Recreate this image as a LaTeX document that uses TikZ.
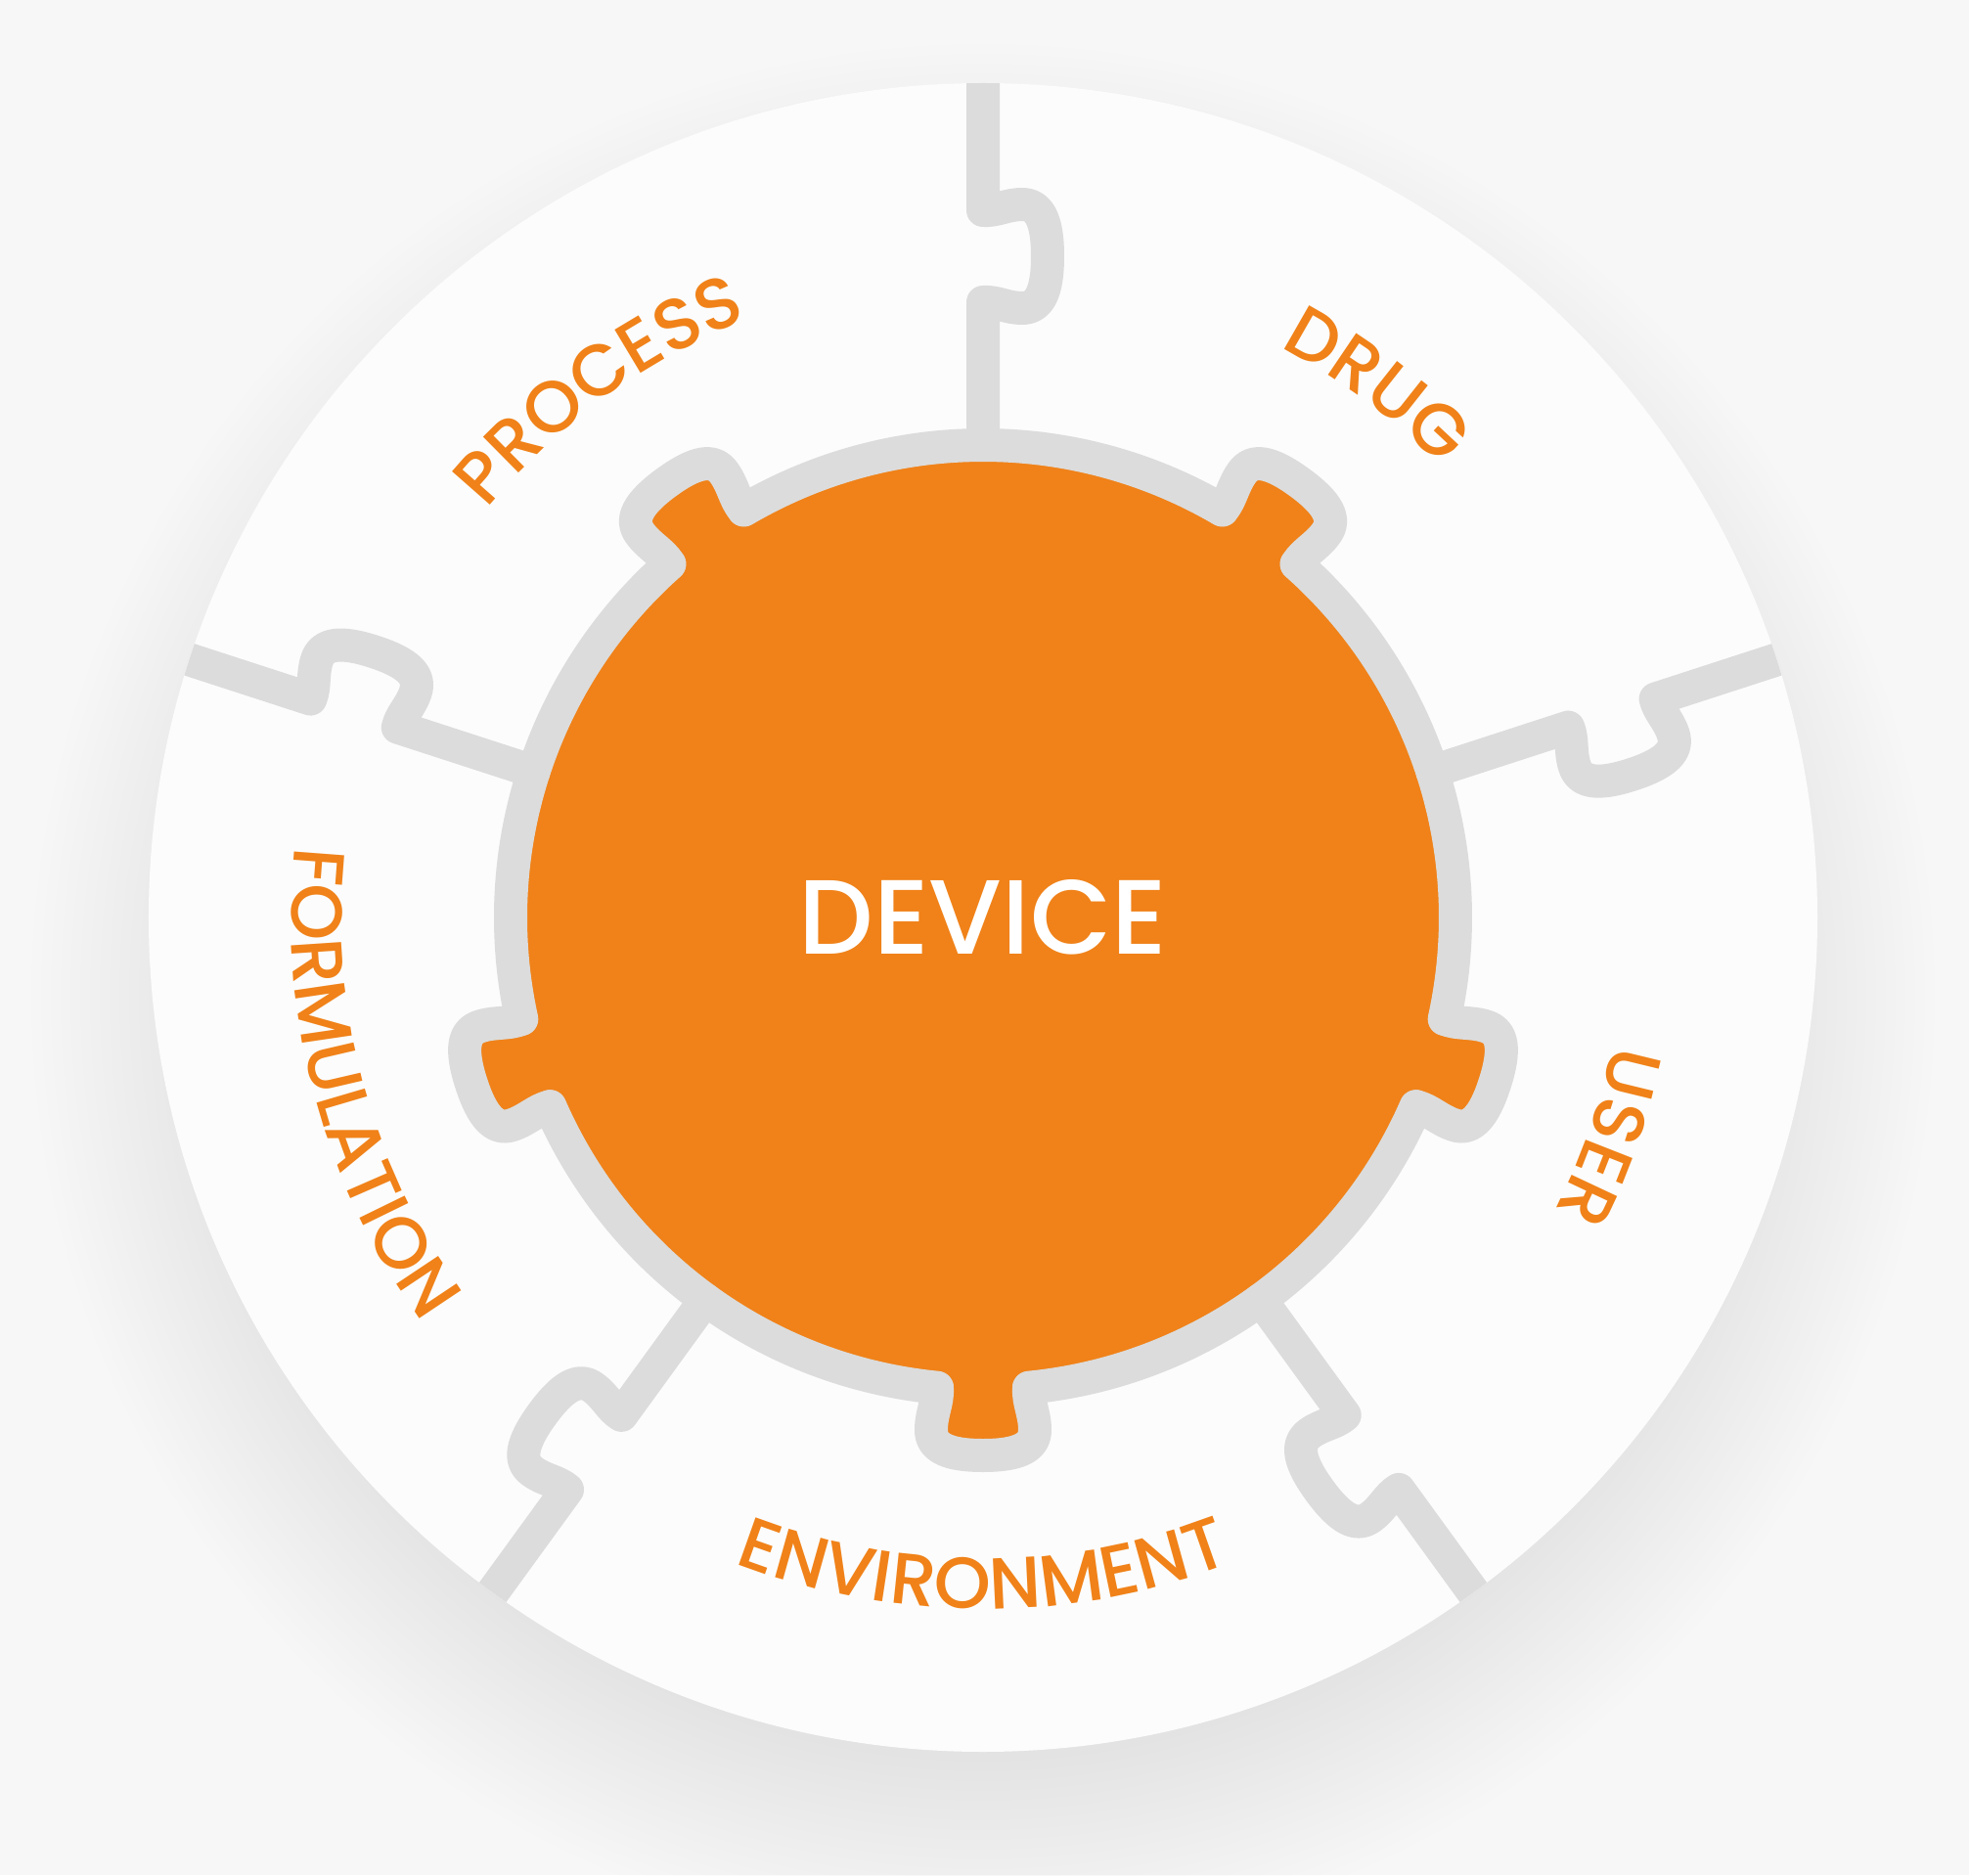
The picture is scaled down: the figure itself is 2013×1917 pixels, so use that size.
\documentclass[tikz,border=0pt]{standalone}
\usepackage{fontspec}
\usetikzlibrary{decorations.text}
\IfFontExistsTF{Poppins Medium}
  {\newfontfamily\labelfont{Poppins Medium}}
  {\newfontfamily\labelfont{Poppins}}

\definecolor{bggray}{HTML}{F7F7F7}
\definecolor{piecewhite}{HTML}{FCFCFC}
\definecolor{seamgray}{HTML}{DCDCDC}
\definecolor{deviceorange}{HTML}{F08219}

\tikzset{
% seams between the puzzle pieces
seam/.style={draw=seamgray,line width=17pt,line cap=round,line join=round},
% curved orange labels round the device
arc label/.style={decorate,decoration={text along path,text align=center,text color=deviceorange}}
}
\newcommand\labelsize{\fontsize{37}{40}\selectfont}

\begin{document}
\begin{tikzpicture}[x=0.5pt,y=0.5pt]
% background and soft drop shadow
\useasboundingbox (-1005,-979) rectangle (1008,938);
\fill[bggray] (-1005,-979) rectangle (1008,938);
\begin{scope}
\clip (-1005,-979) rectangle (1008,938);
\foreach \r in {753,763,...,973}
  \fill[black,opacity=0.0055] (0,-80) circle (\r);
\end{scope}
% the outer disc
\fill[piecewhite] (0,0) circle (853);
\begin{scope}
\clip (0,0) circle (853);
% device body with its five tabs
\fill[deviceorange] (0,0) circle (483);
\foreach \t in {54,126,198,270,342}{
  \fill[deviceorange,rotate=\t-90] (47,481) .. controls (46,496) and (53,507) .. (53,524)
    .. controls (53,542) and (36,550) .. (0,550) .. controls (-36,550) and (-53,542) .. (-53,524)
    .. controls (-53,507) and (-46,496) .. (-47,481) -- (-47,420) -- (47,420) -- cycle;
}
\foreach \t in {54,126,198,270,342}{
  \draw[seam,rotate=\t-90] (47,481) .. controls (46,496) and (53,507) .. (53,524)
    .. controls (53,542) and (36,550) .. (0,550) .. controls (-36,550) and (-53,542) .. (-53,524)
    .. controls (-53,507) and (-46,496) .. (-47,481);
  \draw[seam] ({\t+5.58}:483) arc[start angle=\t+5.58,end angle=\t+66.42,radius=483];
}
% seams from the body out to the rim
\foreach \a in {90,18,-54,-126,162}{
  \draw[seam,rotate=\a-90] (0,900) -- (0,723) .. controls (14,722) and (24,729) .. (40,729)
    .. controls (58,729) and (66,712) .. (66,676) .. controls (66,640) and (58,623) .. (40,623)
    .. controls (24,623) and (14,630) .. (0,629) -- (0,483);
}
\end{scope}
% labels
\path[arc label,decoration={text={|\labelfont\labelsize|PROCESS}}] (160:657) arc[start angle=160,end angle=92,radius=657];
\path[arc label,decoration={text={|\labelfont\labelsize|DRUG}}] (87.5:657) arc[start angle=87.5,end angle=19.5,radius=657];
\path[arc label,decoration={text={|\labelfont\labelsize|USER}}] (14.7:657) arc[start angle=14.7,end angle=-53.3,radius=657];
\path[arc label,decoration={text={|\labelfont\labelsize|ENVIRONMENT}}] (-135:707) arc[start angle=-135,end angle=-45,radius=707];
\path[arc label,decoration={text={|\labelfont\labelsize|FORMULATION}}] (150:707) arc[start angle=150,end angle=240,radius=707];
\node (device) at (0,0) [text=white,font=\labelfont\fontsize{54}{60}\selectfont] {DEVICE};
\end{tikzpicture}
\end{document}
